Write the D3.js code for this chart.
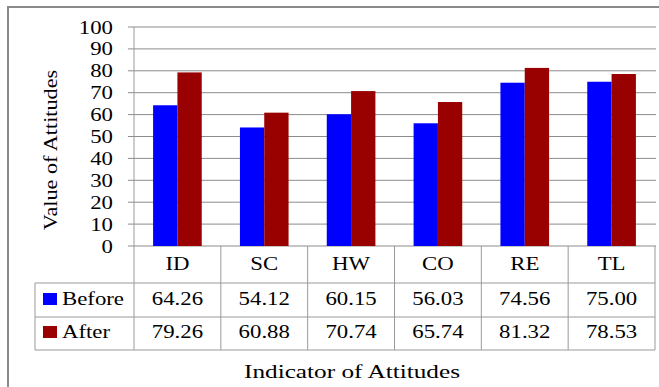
<!DOCTYPE html>
<html>
<head>
<meta charset="utf-8">
<script src="https://cdn.jsdelivr.net/npm/d3@7"></script>
<style>
  body { margin: 0; background: #fff; }
  text { font-family: "Liberation Serif", serif; fill: #000; font-size: 19px; }
</style>
</head>
<body>
<svg id="chart"></svg>
<script>
const categories = ["ID", "SC", "HW", "CO", "RE", "TL"];
const seriesNames = ["Before", "After"];
const before = [64.26, 54.12, 60.15, 56.03, 74.56, 75.00];
const after = [79.26, 60.88, 70.74, 65.74, 81.32, 78.53];
const yTicks = [0, 10, 20, 30, 40, 50, 60, 70, 80, 90, 100];
const colors = ["#0000ff", "#990000"];

// the source font is wide, stretch Liberation Serif a bit to match
const SX = 1.2;

class barTableChart {

    constructor(svg, width = 659, height = 387) {
        this.svg = svg;
        this.width = width;
        this.height = height;
    }

    initialize() {
        this.svg = d3.select(this.svg)
            .attr("width", this.width)
            .attr("height", this.height);

        this.left = 134;
        this.right = 655;
        this.top = 27;
        this.bottom = 246;
        this.rowY = [246, 283, 317, 350];
        this.legendLeft = 35;

        // frame of the chart area (cropped on right / bottom)
        this.svg.append("path")
            .attr("d", `M8,${this.height} V7 H${this.width}`)
            .attr("fill", "none")
            .attr("stroke", "#8a8a8a")
            .attr("stroke-width", 2);
    }

    label(g, x, y, txt, anchor = "middle", sx = SX) {
        return g.append("text")
            .attr("transform", `translate(${x},${y}) scale(${sx},1)`)
            .attr("text-anchor", anchor)
            .text(txt);
    }

    update() {
        const rows = [before, after];

        const x0 = d3.scaleBand()
            .domain(categories)
            .range([this.left, this.right])
            .paddingInner(0.44)
            .paddingOuter(0.22);

        const x1 = d3.scaleBand()
            .domain(seriesNames)
            .range([0, x0.bandwidth()]);

        const y = d3.scaleLinear()
            .domain([0, 100])
            .range([this.bottom, this.top]);

        const grid = this.svg.append("g");
        grid.selectAll("line")
            .data(yTicks)
            .enter()
            .append("line")
            .attr("x1", this.left - 6)
            .attr("x2", this.right + 1)
            .attr("y1", d => y(d))
            .attr("y2", d => y(d))
            .attr("stroke", "#8c8c8c")
            .attr("stroke-width", 1);

        yTicks.forEach(t => this.label(grid, 113, y(t) + 6.5, t, "end"));

        // bars
        const groups = this.svg.append("g")
            .selectAll("g")
            .data(categories)
            .enter()
            .append("g")
            .attr("transform", d => `translate(${x0(d)},0)`);

        groups.selectAll("rect")
            .data((d, i) => seriesNames.map((s, k) => ({ s: s, v: rows[k][i], k: k })))
            .enter()
            .append("rect")
            .attr("x", d => x1(d.s))
            .attr("width", x1.bandwidth())
            .attr("y", d => y(d.v))
            .attr("height", d => y(0) - y(d.v))
            .attr("fill", d => colors[d.k]);

        // data table
        const table = this.svg.append("g")
            .attr("stroke", "#9a9a9a")
            .attr("stroke-width", 1);

        const bounds = categories.map(c => x0(c) - x0.step() * x0.paddingInner() / 2);
        bounds.push(this.right);

        table.append("line")
            .attr("x1", this.left).attr("x2", this.left)
            .attr("y1", this.top).attr("y2", this.rowY[3]);

        table.selectAll(".vline")
            .data(bounds.slice(1))
            .enter()
            .append("line")
            .attr("x1", d => d).attr("x2", d => d)
            .attr("y1", this.rowY[0]).attr("y2", this.rowY[3]);

        table.selectAll(".hline")
            .data(this.rowY.slice(1))
            .enter()
            .append("line")
            .attr("x1", this.legendLeft).attr("x2", this.right)
            .attr("y1", d => d).attr("y2", d => d);

        table.append("line")
            .attr("x1", this.legendLeft).attr("x2", this.legendLeft)
            .attr("y1", this.rowY[1]).attr("y2", this.rowY[3]);

        const cx = c => x0(c) + x0.bandwidth() / 2;
        const txt = this.svg.append("g");

        categories.forEach(c => this.label(txt, cx(c), 270, c));

        rows.forEach((vals, k) => {
            const base = k === 0 ? 305 : 338;
            vals.forEach((v, i) => this.label(txt, cx(categories[i]), base, v.toFixed(2)));

            txt.append("rect")
                .attr("x", 43)
                .attr("y", base - 12)
                .attr("width", 14)
                .attr("height", 12)
                .attr("fill", colors[k]);

            this.label(txt, 62, base, seriesNames[k], "start");
        });

        // axis titles
        this.label(txt, 352, 378, "Indicator of Attitudes", "middle", 1.33);

        this.svg.append("text")
            .attr("transform", `translate(57,150) rotate(-90) scale(1.17,1)`)
            .attr("text-anchor", "middle")
            .text("Value of Attitudes");
    }
}

const chart = new barTableChart(document.getElementById("chart"));
chart.initialize();
chart.update();
</script>
</body>
</html>
